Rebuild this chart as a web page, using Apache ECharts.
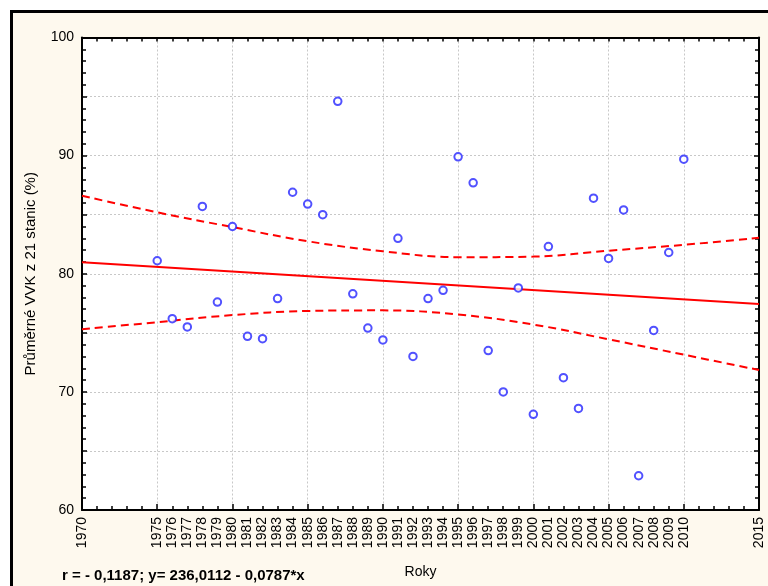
<!DOCTYPE html>
<html><head><meta charset="utf-8">
<script src="https://cdn.jsdelivr.net/npm/echarts@6/dist/echarts.min.js"></script>
<style>html,body{margin:0;padding:0;background:#fff}#c{width:768px;height:586px}</style>
</head><body><div id="c"></div>
<script>
// ---- data ----
const years = [1975,1976,1977,1978,1979,1980,1981,1982,1983,1984,1985,1986,1987,1988,1989,1990,1991,1992,
  1993,1994,1995,1996,1997,1998,1999,2000,2001,2002,2003,2004,2005,2006,2007,2008,2009,2010];
const vvk = [81.1,76.2,75.5,85.7,77.6,84.0,74.7,74.5,77.9,86.9,85.9,85.0,94.6,78.3,75.4,74.4,83.0,73.0,
  77.9,78.6,89.9,87.7,73.5,70.0,78.8,68.1,82.3,71.2,68.6,86.4,81.3,85.4,62.9,75.2,81.8,89.7];
const fitYears = [1970, 2015];
const fitValues = [80.97, 77.43];
const bandYears = [1970,1975,1980,1985,1990,1995,2000,2005,2010,2015];
const upperBand = [86.6,85.2,83.95,82.75,81.9,81.4,81.45,81.95,82.45,83.05];
const lowerBand = [75.3,75.9,76.5,76.85,76.9,76.55,75.7,74.45,73.15,71.85];
const xTickLabels = [1970,1975,1976,1977,1978,1979,1980,1981,1982,1983,1984,1985,1986,1987,1988,1989,1990,
  1991,1992,1993,1994,1995,1996,1997,1998,1999,2000,2001,2002,2003,2004,2005,2006,2007,2008,2009,2010,2015];
const yTickLabels = [60,70,80,90,100];
const xTitle = 'Roky';
const yTitle = 'Průměrné VVK z 21 stanic (%)';
const note = 'r = - 0,1187; y= 236,0112 - 0,0787*x';

const FONT = '"Liberation Sans", Arial, sans-serif';
const chart = echarts.init(document.getElementById('c'), null, {renderer:'canvas'});
const pair = (xs, ys) => xs.map((x, i) => [x, ys[i]]);
const tickStyle = {color:'#000', width:1.5};
const gridDots = {color:'#c8c8c8', width:1, type:[2,2]};

chart.setOption({
  animation: false,
  backgroundColor: '#fff',
  graphic: [
    {type:'rect', z:-100, silent:true, shape:{x:11.5, y:11.5, width:820, height:700},
     style:{fill:'#FEF9EE', stroke:'#000', lineWidth:3}},
    {type:'text', left:62, top:568, silent:true,
     style:{text:note, font:'bold 15px ' + FONT, fill:'#000'}}
  ],
  grid: {left:82, right:9, top:37.5, bottom:76, show:true, backgroundColor:'#fff', borderWidth:0, containLabel:false},
  xAxis: [
    {type:'value', min:1970, max:2015, interval:1, position:'bottom',
     axisLine:{show:true, onZero:false, lineStyle:{color:'#000', width:2}},
     axisTick:{show:true, inside:true, length:4, lineStyle:tickStyle},
     axisLabel:{rotate:90, margin:7, color:'#000', fontSize:14, fontFamily:FONT,
       formatter: v => xTickLabels.includes(v) ? String(v) : ''},
     splitLine:{show:false},
     name:xTitle, nameLocation:'middle', nameGap:55,
     nameTextStyle:{color:'#000', fontSize:14, fontFamily:FONT}},
    {type:'value', min:1970, max:2015, interval:5, position:'bottom',
     axisLine:{show:false}, axisTick:{show:true, inside:true, length:6, lineStyle:tickStyle},
     axisLabel:{show:false}, splitLine:{show:true, lineStyle:gridDots}},
    {type:'value', min:1970, max:2015, interval:1, position:'top',
     axisLine:{show:true, onZero:false, lineStyle:{color:'#000', width:2}},
     axisTick:{show:true, inside:true, length:4, lineStyle:tickStyle},
     axisLabel:{show:false}, splitLine:{show:false}}
  ],
  yAxis: [
    {type:'value', min:60, max:100, interval:5, position:'left',
     axisLine:{show:true, onZero:false, lineStyle:{color:'#000', width:2}},
     axisTick:{show:true, inside:true, length:5, lineStyle:tickStyle},
     minorTick:{show:true, splitNumber:5, length:4, lineStyle:tickStyle},
     axisLabel:{margin:8, color:'#000', fontSize:14, fontFamily:FONT,
       formatter: v => yTickLabels.includes(v) ? String(v) : ''},
     splitLine:{show:true, lineStyle:gridDots},
     name:yTitle, nameLocation:'middle', nameGap:44,
     nameTextStyle:{color:'#000', fontSize:15, fontFamily:FONT}},
    {type:'value', min:60, max:100, interval:5, position:'right',
     axisLine:{show:true, onZero:false, lineStyle:{color:'#000', width:2}},
     axisTick:{show:true, inside:true, length:5, lineStyle:tickStyle},
     minorTick:{show:true, splitNumber:5, length:4, lineStyle:tickStyle},
     axisLabel:{show:false}, splitLine:{show:false}}
  ],
  series: [
    {type:'line', xAxisIndex:0, yAxisIndex:0, data:pair(fitYears, fitValues), showSymbol:false, symbol:'none',
     lineStyle:{color:'#ff0000', width:2}, z:2},
    {type:'line', xAxisIndex:0, yAxisIndex:0, data:pair(bandYears, upperBand), showSymbol:false, symbol:'none', smooth:0.4,
     lineStyle:{color:'#ff0000', width:2, type:[8,5]}, z:2},
    {type:'line', xAxisIndex:0, yAxisIndex:0, data:pair(bandYears, lowerBand), showSymbol:false, symbol:'none', smooth:0.4,
     lineStyle:{color:'#ff0000', width:2, type:[8,5]}, z:2},
    {type:'scatter', xAxisIndex:0, yAxisIndex:0, data:pair(years, vvk), symbol:'emptyCircle', symbolSize:7.5,
     itemStyle:{color:'#2626ff', borderColor:'#2626ff', borderWidth:1.3}, z:4}
  ]
});
</script></body></html>
